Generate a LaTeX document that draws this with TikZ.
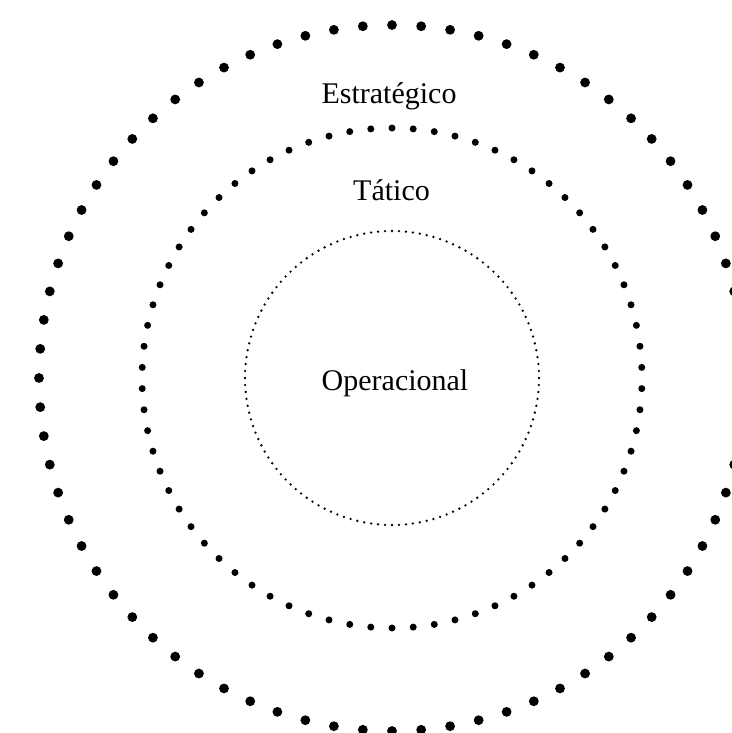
\documentclass[tikz,border=0pt]{standalone}
\usepackage{fontspec}
\setmainfont{Liberation Serif}
\usetikzlibrary{calc}
\tikzstyle{lbl}=[anchor=base,inner sep=0pt,font=\fontsize{30}{36}\selectfont]
\tikzstyle{bigdot}=[fill=black]
\tikzstyle{middot}=[fill=black]
\tikzstyle{smalldot}=[fill=black]
\begin{document}
\begin{tikzpicture}[x=1pt,y=-1pt]
        \useasboundingbox (0,0) rectangle (731,733);
        \coordinate (c) at (392,378);
        \foreach \i in {0,...,75}
            \fill[style=bigdot] ($(c)+({90+360/76*\i}:353)$) circle (4.9);
        \foreach \i in {0,...,73}
            \fill[style=middot] ($(c)+({90+360/74*\i}:250)$) circle (3.5);
        \foreach \i in {0,...,131}
            \fill[style=smalldot] ($(c)+({90+360/132*\i}:147)$) circle (1.3);
        \node[style=lbl] (estrategico) at (389,103) {Estratégico};
        \node[style=lbl] (tatico) at (391.5,200.7) {Tático};
        \node[style=lbl] (operacional) at (395,390.7) {Operacional};
    \end{tikzpicture}
\end{document}
